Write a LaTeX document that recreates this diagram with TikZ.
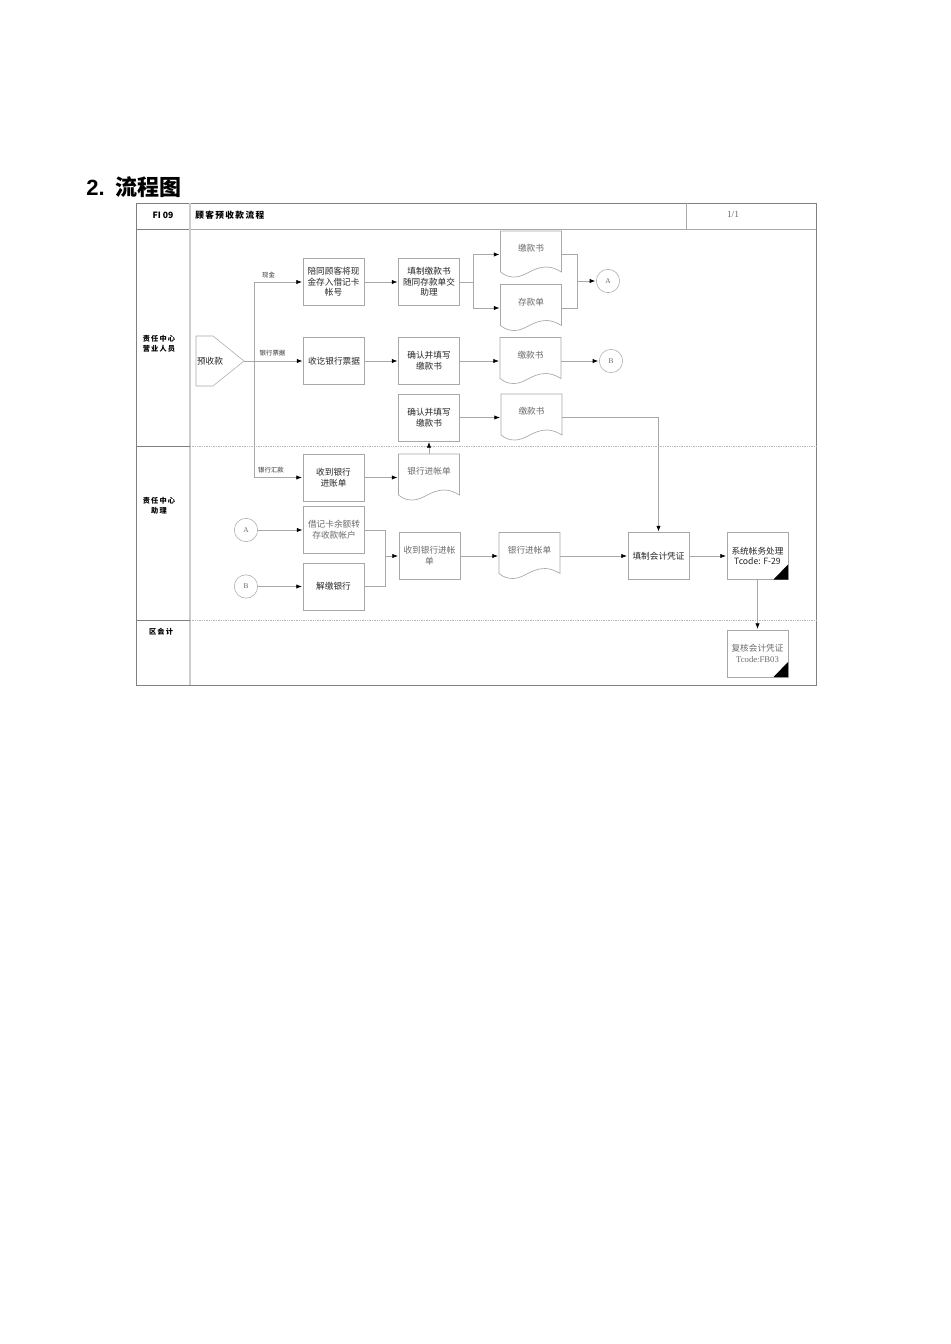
\documentclass[tikz,border=0pt]{standalone}
\usepackage{fontspec}
\setmainfont{Noto Sans CJK SC}
\newfontfamily\spacedfont[LetterSpace=16]{Noto Sans CJK SC}
\newfontfamily\titlefont{Liberation Sans}
\newfontfamily\serifletter{Liberation Serif}
\usetikzlibrary{arrows.meta,calc}
\definecolor{LineClr}{gray}{0.66}
\definecolor{FrameClr}{gray}{0.5}
\definecolor{SoftClr}{gray}{0.42}
\tikzset{
  boxnode/.style={draw=LineClr,line width=0.5pt,minimum width=45.75pt,minimum height=35.25pt,
    inner sep=0pt,outer sep=0pt,align=center,font=\fontsize{6.5}{8}\selectfont,text=black!85},
  softbox/.style={boxnode,text=SoftClr},
  docnode/.style={boxnode,draw=none,text=SoftClr},
  dotnode/.style={circle,draw=LineClr,line width=0.4pt,minimum size=17.5pt,inner sep=0pt,outer sep=0pt,
    font=\serifletter\fontsize{5.5}{6}\selectfont,text=SoftClr},
  lanelabel/.style={inner sep=0pt,align=center,font=\spacedfont\bfseries\fontsize{5.4}{7.6}\selectfont},
  pathlabel/.style={inner sep=0pt,font=\fontsize{4.8}{6}\selectfont,text=black!80},
  conn/.style={draw=LineClr,line width=0.5pt},
  arrowconn/.style={conn,-{Latex[black,length=4.2pt,width=3.2pt]},shorten >=0.8pt},
  laneline/.style={draw=gray!55,line width=0.3pt,densely dotted}
}
\begin{document}
\begin{tikzpicture}[x=0.75pt,y=-0.75pt]
\useasboundingbox[fill=white] (0,0) rectangle (950,1344);

\node[inner sep=0pt,anchor=west,font=\bfseries\fontsize{16.5}{18}\selectfont] (title) at (86,187) {{\titlefont 2.}\hspace{8.5pt}流程图};

% frame and lanes
\draw[FrameClr,line width=0.5pt] (136,203) rectangle (816,685);
\draw[FrameClr,line width=0.5pt] (136,229) -- (190,229);
\draw[LineClr,line width=0.5pt] (190,229) -- (816,229);
\draw[gray!40,line width=0.8pt] (190,203) -- (190,685);
\draw[LineClr,line width=0.5pt] (686,203) -- (686,229);
\draw[FrameClr,line width=0.5pt] (136,446) -- (190,446) (136,620) -- (190,620);
\draw[laneline] (190,446) -- (816,446);
\draw[laneline] (190,620) -- (816,620);

\node[inner sep=0pt,font=\bfseries\fontsize{6.5}{8}\selectfont] (fino) at (163,215) {FI 09};
\node[inner sep=0pt,anchor=west,font=\spacedfont\bfseries\fontsize{6.5}{8}\selectfont] (flowname) at (195,215) {顾客预收款流程};
\node[inner sep=0pt,font=\serifletter\fontsize{7}{8}\selectfont,text=SoftClr] (pageno) at (733,214.5) {1/1};
\node[lanelabel] (lanea) at (159,344) {责任中心\\营业人员};
\node[lanelabel] (laneb) at (159,506) {责任中心\\助理};
\node[lanelabel] (lanec) at (161,632) {区会计};

% start shape
\draw[conn,line width=0.4pt] (196,336) -- (213,336) -- (244,361) coordinate (tip) -- (213,386) -- (196,386) -- cycle;
\node[inner sep=0pt,font=\fontsize{6.5}{8}\selectfont,text=black!85] (start) at (210,361) {预收款};
\coordinate (trunk) at (254,361);

% first row
\node[boxnode] (cash) at (333.5,282) {陪同顾客将现\\金存入借记卡\\帐号};
\node[boxnode] (fill) at (429,282) {填制缴款书\\随同存款单交\\助理};
\node[docnode] (docpay) at (531,254.5) {\raisebox{2pt}[0pt][0pt]{缴款书}};
\node[docnode] (docsave) at (531,308) {\raisebox{2pt}[0pt][0pt]{存款单}};
\node[dotnode] (linka) at (608,281) {A};

% second row
\node[boxnode] (receipt) at (334,361) {收讫银行票据};
\node[boxnode] (confirm) at (429,361) {确认并填写\\缴款书};
\node[docnode] (docbill) at (530.5,361) {\raisebox{2pt}[0pt][0pt]{缴款书}};
\node[dotnode] (linkb) at (611,361) {B};

% third row
\node[boxnode] (confirmb) at (429,417.5) {确认并填写\\缴款书};
\node[docnode] (docremit) at (531.5,417.5) {\raisebox{2pt}[0pt][0pt]{缴款书}};
\node[boxnode] (arrive) at (333.5,477.5) {收到银行\\进账单};
\node[docnode] (docslip) at (429,477.5) {\raisebox{2pt}[0pt][0pt]{银行进帐单}};

% assistant lane
\node[dotnode] (inka) at (246,530) {A};
\node[dotnode] (inkb) at (246,586.5) {B};
\node[softbox] (debit) at (334,530) {借记卡余额转\\存收款帐户};
\node[boxnode] (pay) at (333.5,586.5) {解缴银行};
\node[softbox] (slip) at (429.5,556) {收到银行进帐\\单};
\node[docnode] (docback) at (529.5,556) {\raisebox{2pt}[0pt][0pt]{银行进帐单}};
\node[boxnode] (voucher) at (658.5,556) {填制会计凭证};
\node[boxnode] (sys) at (757.5,556) {系统帐务处理\\Tcode: F-29};
\node[softbox] (check) at (757.5,653.5) {复核会计凭证\\{\serifletter Tcode:FB03}};

% document outlines
\foreach \d in {docpay,docsave,docbill,docremit,docslip,docback}{
  \draw[conn] ($(\d.south west)+(0,-6)$) -- (\d.north west) -- (\d.north east) -- ($(\d.south east)+(0,-6)$)
    .. controls ($(\d.south east)+(-5,-9)$) and ($(\d.south east)+(-10,-11)$) .. ($(\d.south east)+(-15,-11)$)
    .. controls ($(\d.south west)+(32,-11)$) and ($(\d.south west)+(25,-1)$) .. ($(\d.south west)+(14,-1)$)
    .. controls ($(\d.south west)+(9,-1)$) and ($(\d.south west)+(5,-2)$) .. ($(\d.south west)+(0,-6)$);
}
\foreach \b in {sys,check}{
  \fill[black] ($(\b.south east)+(-14.5,0)$) -- (\b.south east) -- ($(\b.south east)+(0,-15)$) -- cycle;
}

% connectors
\draw[conn] (tip) -- (trunk);
\draw[arrowconn] (trunk) |- (cash.west);
\draw[arrowconn] (trunk) -- (receipt.west);
\draw[arrowconn] (trunk) |- (arrive.west);
\node[pathlabel] (lbcash) at (268.5,275) {现金};
\node[pathlabel] (lbnote) at (272.5,353) {银行票据};
\node[pathlabel] (lbwire) at (271,470) {银行汇款};

\draw[arrowconn] (cash) -- (fill);
\coordinate (split) at (473,282);
\draw[conn] (fill) -- (split);
\draw[arrowconn] (split) |- (docpay.west);
\draw[arrowconn] (split) |- (docsave.west);
\coordinate (merge) at (577.5,281);
\draw[conn] (docpay.east) -| (merge) |- (docsave.east);
\draw[arrowconn] (merge) -- (linka);

\draw[arrowconn] (receipt) -- (confirm);
\draw[arrowconn] (confirm) -- (docbill.west);
\draw[arrowconn] (docbill.east) -- (linkb);

\draw[arrowconn] (confirmb) -- (docremit.west);
\draw[arrowconn] (docremit.east) -| (voucher.north);
\draw[arrowconn] (arrive) -- (docslip.west);
\draw[arrowconn] (docslip.north) -- (confirmb.south);

\draw[arrowconn] (inka) -- (debit);
\draw[arrowconn] (inkb) -- (pay);
\coordinate (join) at (385.5,556);
\draw[conn] (debit.east) -| (join) |- (pay.east);
\draw[arrowconn] (join) -- (slip.west);
\draw[arrowconn] (slip) -- (docback.west);
\draw[arrowconn] (docback.east) -- (voucher);
\draw[arrowconn] (voucher) -- (sys);
\draw[arrowconn] (sys) -- (check);
\end{tikzpicture}
\end{document}
